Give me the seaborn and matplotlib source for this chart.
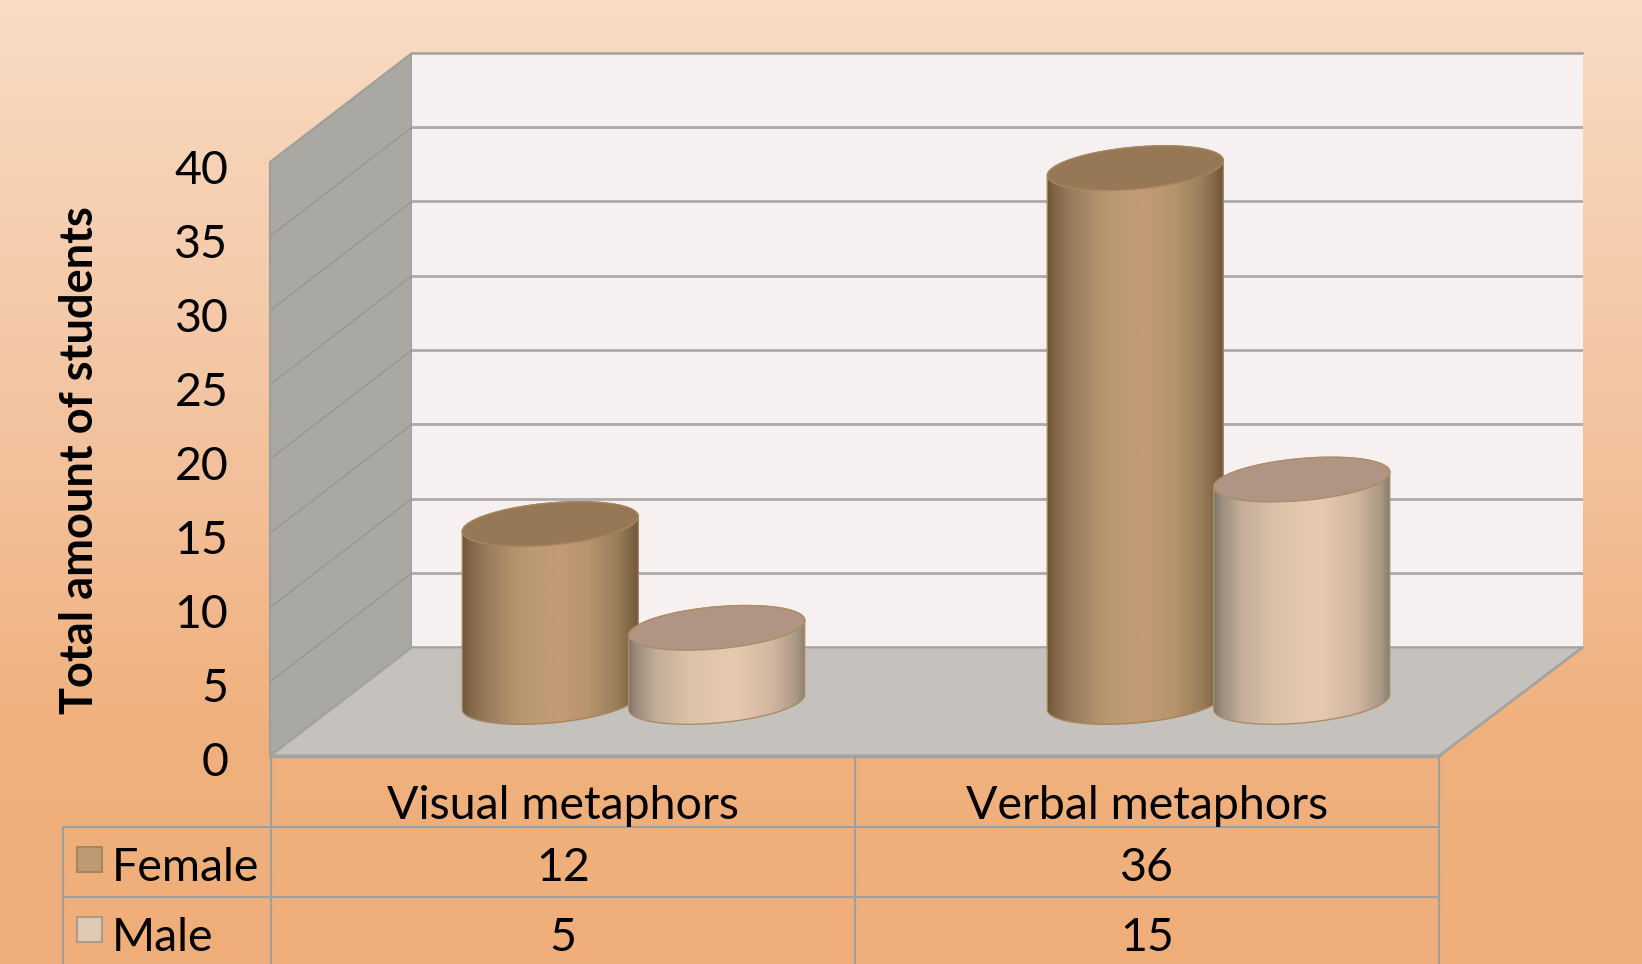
import numpy as np
import pandas as pd
import matplotlib
matplotlib.use("Agg")
import matplotlib.pyplot as plt
import seaborn as sns
from matplotlib.colors import LinearSegmentedColormap
from matplotlib.patches import Polygon, Rectangle

# Chart values
categories = ["Visual metaphors", "Verbal metaphors"]
female = [12, 36]
male = [5, 15]
y_ticks = [0, 5, 10, 15, 20, 25, 30, 35, 40]

W, H = 1642, 964
UNIT = 14.85  # pixels per student on the walls
BAR_UNIT = 14.83  # pixels per student on the cylinders
FONT = 33.5

sns.set_theme(style="white")
plt.rcParams["font.family"] = ["Lato", "DejaVu Sans"]

df = pd.DataFrame({
    "Type": categories * 2,
    "Gender": ["Female"] * 2 + ["Male"] * 2,
    "Students": female + male,
})


def fig_rect(left, top, right, bottom):
    return [left / W, 1 - bottom / H, (right - left) / W, (bottom - top) / H]


fig = plt.figure(figsize=(W / 100, H / 100), dpi=100)

# Background, walls and table lines, in pixel coordinates
ax_bg = fig.add_axes([0, 0, 1, 1], zorder=0)
ax_bg.set_autoscale_on(False)
bg_cmap = LinearSegmentedColormap.from_list(
    "bg", [(0, "#f9dcc6"), (0.11, "#f7d5ba"), (0.5, "#f2c09a"), (0.75, "#f0b17e"), (1, "#efae79")])
ax_bg.imshow(np.linspace(0, 1, 256).reshape(-1, 1), extent=[0, W, H, 0], aspect="auto", cmap=bg_cmap)
ax_bg.add_patch(Polygon([(270, 162), (412, 53), (412, 647), (270, 756)], fc="#aaa8a3", ec="#9f9e9a", lw=1.5))
ax_bg.add_patch(Polygon([(270, 756), (412, 647), (1583, 647), (1439, 756)], fc="#c5c1bd", ec="#a3a3a0", lw=2))
for v in y_ticks[1:-1]:
    ax_bg.plot([270, 412], [756 - v * UNIT, 647 - v * UNIT], color="#979793", lw=1)

line_color = "#98a0a8"
ax_bg.plot([270, 1439], [756, 756], color="#a3a3a0", lw=2.5)
for x, top in [(63, 827), (271, 756), (855, 756), (1439, 756)]:
    ax_bg.plot([x, x], [top, H], color=line_color, lw=1.5)
for y in [827, 897]:
    ax_bg.plot([63, 1439], [y, y], color=line_color, lw=1.5)

centers = [563, 1147]
for cx, name, f, m in zip(centers, categories, female, male):
    ax_bg.text(cx, 806, name, ha="center", va="center", fontsize=FONT, color="black")
    ax_bg.text(cx, 868, str(f), ha="center", va="center", fontsize=FONT, color="black")
    ax_bg.text(cx, 938, str(m), ha="center", va="center", fontsize=FONT, color="black")

ax_bg.add_patch(Rectangle((77, 847), 25, 25, fc="#bd9a71", ec="#a6855f", lw=1.5))
ax_bg.add_patch(Rectangle((77, 917), 25, 25, fc="#e0c9b4", ec="#ab9b88", lw=1.5))
ax_bg.text(112, 868, "Female", ha="left", va="center", fontsize=FONT, color="black")
ax_bg.text(112, 938, "Male", ha="left", va="center", fontsize=FONT, color="black")
ax_bg.text(80, 460, "Total amount of students", rotation=90, ha="center", va="center",
           fontsize=32.5, fontweight="bold", color="black")
ax_bg.set_xlim(0, W)
ax_bg.set_ylim(H, 0)
ax_bg.axis("off")

# Back wall with its gridlines
ax_back = fig.add_axes(fig_rect(412, 53, 1583, 647), zorder=1)
ax_back.set_facecolor("#f7f0f0")
ax_back.set_ylim(0, 40)
ax_back.set_xticks([])
ax_back.set_yticks(y_ticks)
ax_back.set_yticklabels([])
ax_back.tick_params(length=0)
ax_back.grid(axis="y", color="#ababab", lw=2)
for name, spine in ax_back.spines.items():
    spine.set_visible(name == "top")
    spine.set_color("#a3a3a0")

# Value axis labels beside the wall's front edge
ax_front = fig.add_axes(fig_rect(270, 167, 300, 759), zorder=2)
ax_front.patch.set_alpha(0)
ax_front.set_ylim(0, 40)
ax_front.set_xticks([])
ax_front.set_yticks(y_ticks)
ax_front.tick_params(axis="y", length=0, pad=30, labelsize=FONT, labelcolor="black")
sns.despine(ax=ax_front, left=True, bottom=True)

# Cylinders, laid out by a seaborn bar plot on a full figure axes
ax = fig.add_axes([0, 0, 1, 1], zorder=3)
ax.patch.set_alpha(0)
sns.barplot(data=df, x="Type", y="Students", hue="Gender", hue_order=["Female", "Male"],
            order=categories, width=0.569, gap=0, legend=False, ax=ax)
ax.set_autoscale_on(False)

X_UNIT = 585
X_ZERO = 633.5
Y_ZERO = 702
half_w = 88 / X_UNIT
shear = 7.5 / BAR_UNIT
half_h = 21 / BAR_UNIT

female_cmap = LinearSegmentedColormap.from_list("female", [
    (0, "#6e5535"), (0.03, "#7c6243"), (0.12, "#96795a"), (0.3, "#b5936c"), (0.42, "#bd9b72"),
    (0.55, "#c49b75"), (0.72, "#b6946c"), (0.88, "#9a7d5a"), (0.97, "#7c6243"), (1, "#6e5535")])
male_cmap = LinearSegmentedColormap.from_list("male", [
    (0, "#827668"), (0.04, "#9a8c7d"), (0.15, "#c2ad99"), (0.35, "#dcc2aa"), (0.6, "#e6cab0"),
    (0.82, "#d0b5a0"), (0.95, "#a99886"), (1, "#8a7d6e")])
styles = {0: (female_cmap, "#967756", "#a6855f"), 1: (male_cmap, "#b09584", "#ab8d66")}

bars = list(ax.patches)
angles = np.linspace(0, np.pi, 60)
for i, bar in enumerate(bars):
    bar.set_visible(False)
    cx = bar.get_x() + bar.get_width() / 2
    h = bar.get_height()
    cmap, top_color, edge = styles[i // 2]
    z = 10 + i * 4

    # Outline: lower half of the base, then upper half of the top
    low_x = cx + half_w * np.cos(angles + np.pi)
    low_y = shear * np.cos(angles + np.pi) + half_h * np.sin(angles + np.pi)
    up_x = cx + half_w * np.cos(angles)
    up_y = h + shear * np.cos(angles) + half_h * np.sin(angles)
    body = Polygon(np.column_stack([np.r_[low_x, up_x], np.r_[low_y, up_y]]),
                   fc="none", ec=edge, lw=1, zorder=z + 1)
    ax.add_patch(body)

    im = ax.imshow(np.linspace(0, 1, 256).reshape(1, -1), cmap=cmap, aspect="auto", zorder=z,
                   extent=[cx - half_w, cx + half_w, -3, h + 3], interpolation="bilinear")
    im.set_clip_path(body)

    # Top face
    t = np.linspace(0, 2 * np.pi, 120)
    ax.add_patch(Polygon(np.column_stack([cx + half_w * np.cos(t),
                                          h + shear * np.cos(t) + half_h * np.sin(t)]),
                         fc=top_color, ec=edge, lw=1, zorder=z + 2))

ax.set_xlim(-X_ZERO / X_UNIT, (W - X_ZERO) / X_UNIT)
ax.set_ylim((Y_ZERO - H) / BAR_UNIT, Y_ZERO / BAR_UNIT)
ax.axis("off")

fig.savefig("out.png", dpi=100)
